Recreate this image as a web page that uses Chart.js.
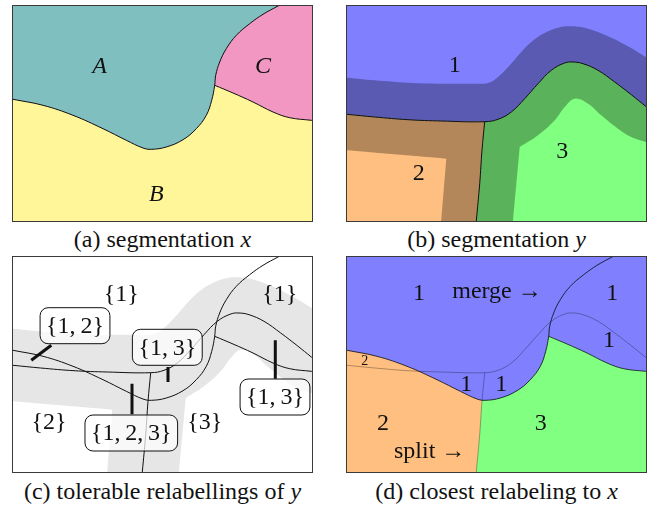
<!DOCTYPE html>
<html>
<head>
<meta charset="utf-8">
<script src="https://cdn.jsdelivr.net/npm/chart.js@4.4.1/dist/chart.umd.min.js"></script>
<style>
  body { margin: 0; background: #fff; width: 649px; height: 506px; position: relative; overflow: hidden;
         font-family: "Liberation Serif", "DejaVu Serif", serif; color: #111; }
  .panel { position: absolute; width: 301px; height: 217px; }
  .cap { position: absolute; text-align: center; font-size: 24px; line-height: 28px; white-space: nowrap; }
</style>
</head>
<body>
<div class="panel" style="left:12px;top:5px"><canvas id="chartA"></canvas></div>
<div class="panel" style="left:346px;top:5px"><canvas id="chartB"></canvas></div>
<div class="panel" style="left:12px;top:256px"><canvas id="chartC"></canvas></div>
<div class="panel" style="left:346px;top:256px"><canvas id="chartD"></canvas></div>

<div class="cap" style="left:0px;top:225px;width:325px">(a) segmentation <i>x</i></div>
<div class="cap" style="left:332px;top:225px;width:329px">(b) segmentation <i>y</i></div>
<div class="cap" style="left:0px;top:477px;width:325px">(c) tolerable relabellings of <i>y</i></div>
<div class="cap" style="left:332px;top:477px;width:329px">(d) closest relabeling to <i>x</i></div>

<script>
  // panel coordinates: x 0..299 left to right, y 0..215 top to bottom
  const W = 299, H = 215;

  // --- segmentation x: region boundaries ---
  const xAB = [[0, 93.3], [30, 99.3], [60, 109.3], [90, 122.7], [113.3, 134.3], [130, 142], [138.3, 143.3],
               [153.3, 141], [170, 133.7], [183.3, 122.7], [193.3, 109.3], [198.7, 94.3], [201.7, 79.3]];
  const xAC = [[201.7, 79.3], [202.7, 69.3], [206.7, 56], [213.3, 42.7], [223.3, 29.3], [236.7, 17.7], [250, 8.3], [265, 0]];
  const xBC = [[201.7, 79.3], [220, 87], [240, 96], [260, 106], [276.7, 111.7], [298.3, 114.3]];

  // --- segmentation y: region boundaries ---
  const yTop = [[0, 108.3], [27.7, 111], [61, 113.7], [94.3, 115], [137.7, 115.7]];
  const yTopR = [[137.7, 115.7], [151, 113.3], [164.3, 106], [177.7, 92.7], [191, 77.7], [204.3, 64.3], [217.7, 57],
                 [226, 56], [236, 57.7], [251, 64.3], [267.7, 76], [284.3, 88.7], [298.7, 100.3]];
  const y23 = [[137.7, 115.7], [135, 144.3], [132.7, 177.7], [129.3, 215]];

  // tolerance band edges (inner limits of the dark bands)
  const bandTop = [[0, 71.7], [27.7, 74.3], [61, 76.7], [94.3, 77.7], [127.7, 77.7], [141, 77], [151, 71], [162.7, 59.3],
                   [174.3, 46], [184.3, 36], [197.7, 27], [211, 21.7], [224.3, 20.3], [241, 22.7], [261, 30.3], [281, 40.3], [298.7, 51]];
  const orangeCore = [[0, 144.3], [99.3, 152.7], [94.3, 215]];
  const greenEdge = [[166, 215], [172.7, 141]];
  const greenTop = [[172.7, 141], [191, 129.3], [207.7, 114.3], [217.7, 101], [227.7, 92.7], [241, 97.7],
                    [254.3, 109.3], [271, 122.7], [284.3, 131], [298.7, 136]];

  // --- text ---
  const labelsA = [['A', 86.7, 59.3], ['C', 250, 59.3], ['B', 143.3, 187.7]];
  const labelsB = [['1', 107.7, 58.7], ['2', 71.7, 167], ['3', 215.3, 144.3]];
  const labelsC = [['{1}', 108.3, 36.7], ['{1}', 266.7, 36.7], ['{2}', 36, 165], ['{3}', 191.7, 165]];
  const boxesC = [['{1,\u20092}', 62, 68.7], ['{1,\u20093}', 154.3, 90.3], ['{1,\u20093}', 262, 140], ['{1,\u20092,\u20093}', 118.3, 176]];
  const pointersC = [[[38.3, 88.3], [18.3, 103.3]], [[155, 110], [155, 125]], [[119, 126.7], [119, 157.3]], [[262.3, 83.3], [262.3, 121.7]]];
  const labelsD = [['1', 72, 36], ['merge \u2192', 150, 34], ['1', 265.3, 36], ['1', 262, 82.7], ['1', 119.3, 126.7],
                   ['1', 154.3, 126.7], ['2', 36, 166], ['3', 193.7, 166], ['split \u2192', 82.7, 193.3]];
  const smallLabelsD = [['2', 17.7, 104]];

  const FONT = '"Liberation Serif", "DejaVu Serif", serif';
  const OUT = 12; // outlines run this far past the frame, the chart area clips them

  function grow(a, b) {
    const dx = a[0] - b[0], dy = a[1] - b[1];
    const l = Math.hypot(dx, dy) || 1;
    return [a[0] + dx / l * OUT, a[1] + dy / l * OUT];
  }
  const extStart = c => [grow(c[0], c[1]), ...c];
  const extEnd = c => [...c, grow(c[c.length - 1], c[c.length - 2])];
  const extBoth = c => extEnd(extStart(c));
  const TL = [-OUT, -OUT], TR = [W + OUT, -OUT], BR = [W + OUT, H + OUT], BL = [-OUT, H + OUT];
  const fullRect = [TL, TR, BR, BL];

  const xLine1 = [...extStart(xAB), ...extEnd(xAC.slice(1))];
  const yLine1 = [...extStart(yTop), ...extEnd(yTopR.slice(1))];

  function toXY(pts) { return pts.map(p => ({ x: p[0], y: p[1] })); }

  // frame round each panel
  const framePlugin = {
    id: 'frame',
    afterDraw(chart) {
      const { ctx, chartArea: a } = chart;
      ctx.save();
      ctx.strokeStyle = '#3a3a3a';
      ctx.lineWidth = 1;
      ctx.strokeRect(a.left - 0.5, a.top - 0.5, a.right - a.left + 1, a.bottom - a.top + 1);
      ctx.restore();
    }
  };

  function textPlugin(items, boxes = [], font = '24px ' + FONT, small = []) {
    return {
      id: 'panelText',
      afterDatasetsDraw(chart) {
        const { ctx, scales: { x, y } } = chart;
        ctx.save();
        ctx.textAlign = 'center';
        ctx.textBaseline = 'middle';
        ctx.fillStyle = '#111';
        ctx.font = '24px ' + FONT;
        boxes.forEach(([t, vx, vy]) => {
          const px = x.getPixelForValue(vx), py = y.getPixelForValue(vy);
          const w = ctx.measureText(t).width + 12, h = 36;
          ctx.beginPath();
          ctx.roundRect(px - w / 2, py - h / 2, w, h, 8);
          ctx.fillStyle = 'rgba(255,255,255,0.72)';
          ctx.fill();
          ctx.strokeStyle = '#111';
          ctx.lineWidth = 1;
          ctx.stroke();
          ctx.fillStyle = '#111';
          ctx.fillText(t, px, py + 1);
        });
        ctx.font = font;
        items.forEach(([t, vx, vy]) => ctx.fillText(t, x.getPixelForValue(vx), y.getPixelForValue(vy) + 1));
        ctx.font = '14px ' + FONT;
        small.forEach(([t, vx, vy]) => ctx.fillText(t, x.getPixelForValue(vx), y.getPixelForValue(vy)));
        ctx.restore();
      }
    };
  }

  function makePanel(id, layers, lines, extra) {
    const datasets = [];
    layers.forEach(l => datasets.push({
      data: toXY(l.pts), fill: 'shape', backgroundColor: l.color, borderWidth: 0,
      pointRadius: 0, tension: l.tension ?? 0.4
    }));
    lines.forEach(l => datasets.push({
      data: toXY(l.pts), fill: false, borderColor: l.color, borderWidth: l.width,
      pointRadius: 0, tension: l.tension ?? 0.4, borderCapStyle: 'butt'
    }));
    datasets.reverse(); // first dataset is painted last

    new Chart(document.getElementById(id), {
      type: 'line',
      data: { datasets },
      options: {
        responsive: true,
        maintainAspectRatio: false,
        animation: false,
        events: [],
        layout: { padding: 1 },
        plugins: { legend: { display: false }, tooltip: { enabled: false } },
        scales: {
          x: { type: 'linear', min: 0, max: W, display: false },
          y: { type: 'linear', min: 0, max: H, reverse: true, display: false }
        }
      },
      plugins: [extra, framePlugin]
    });
  }

  const STRAIGHT = 0.0001;
  const black = '#111';

  // (a) segmentation x
  makePanel('chartA', [
    { pts: fullRect, color: '#fff69a', tension: STRAIGHT },
    { pts: [...extStart(xAB), ...extEnd(xBC), TR, TL], color: '#f296c2' },
    { pts: [...xLine1, TL], color: '#80bfbf' }
  ], [
    { pts: xLine1, color: black, width: 1 },
    { pts: extEnd(xBC), color: black, width: 1 }
  ], textPlugin(labelsA, [], 'italic 24px ' + FONT));

  // (b) segmentation y
  makePanel('chartB', [
    { pts: fullRect, color: '#8080ff', tension: STRAIGHT },
    { pts: [...extBoth(bandTop), BR, BL], color: '#5a5ab3' },
    { pts: [...yLine1, BR, BL], color: '#5ab35a' },
    { pts: [...extStart(yTop), ...extEnd(y23), BL], color: '#b3875a' },
    { pts: [...extBoth(orangeCore), BL], color: '#ffbf80', tension: STRAIGHT },
    { pts: [...extStart(greenEdge), ...extEnd(greenTop), BR], color: '#80ff80' }
  ], [
    { pts: yLine1, color: black, width: 1 },
    { pts: extEnd(y23), color: black, width: 1 }
  ], textPlugin(labelsB));

  // (c) tolerable relabellings of y
  makePanel('chartC', [
    { pts: fullRect, color: '#e6e6e6', tension: STRAIGHT },
    { pts: [...extBoth(bandTop), TR, TL], color: '#ffffff' },
    { pts: [...extBoth(orangeCore), BL], color: '#ffffff', tension: STRAIGHT },
    { pts: [...extStart(greenEdge), ...extEnd(greenTop), BR], color: '#ffffff' }
  ], [
    { pts: xLine1, color: black, width: 1 },
    { pts: extEnd(xBC), color: black, width: 1 },
    { pts: yLine1, color: black, width: 1 },
    { pts: extEnd(y23), color: black, width: 1 },
    ...pointersC.map(p => ({ pts: p, color: black, width: 3, tension: 0 }))
  ], textPlugin(labelsC, boxesC));

  // (d) closest relabeling to x
  makePanel('chartD', [
    { pts: fullRect, color: '#80ff80', tension: STRAIGHT },
    { pts: [[y23[0][0], -OUT], ...extEnd(y23), BL, TL], color: '#ffbf80' },
    { pts: [...extStart(xAB), ...extEnd(xBC), TR, TL], color: '#8080ff' }
  ], [
    { pts: yLine1, color: 'rgba(0,0,0,0.38)', width: 0.8 },
    { pts: extEnd(y23), color: 'rgba(0,0,0,0.38)', width: 0.8 },
    { pts: xLine1, color: 'rgba(0,0,0,0.75)', width: 1 },
    { pts: extEnd(xBC), color: 'rgba(0,0,0,0.7)', width: 1 }
  ], textPlugin(labelsD, [], '24px ' + FONT, smallLabelsD));
</script>
</body>
</html>
